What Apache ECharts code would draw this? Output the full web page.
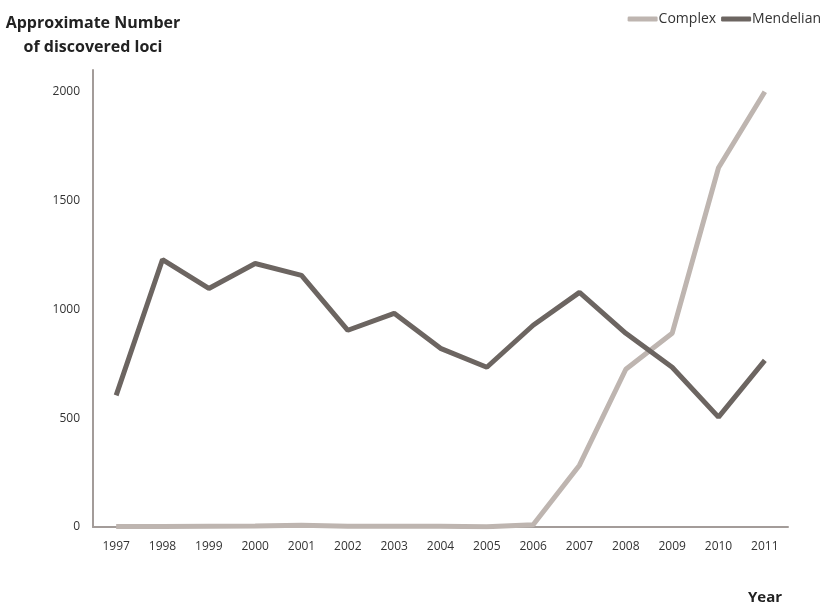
<!DOCTYPE html>
<html><head><meta charset="utf-8">
<script src="https://cdn.jsdelivr.net/npm/echarts@6/dist/echarts.min.js"></script>
<style>html,body{margin:0;padding:0;background:#fff}#c{width:829px;height:604px}</style>
</head><body><div id="c"></div>
<script>
const years = ['1997','1998','1999','2000','2001','2002','2003','2004','2005','2006','2007','2008','2009','2010','2011'];
const complexLoci = [2,2,4,5,8,4,3,3,1,10,284,725,890,1651,2000];
const mendelianLoci = [605,1229,1096,1211,1156,904,982,821,734,927,1078,890,734,505,766];
const yTicks = [0,500,1000,1500,2000];

const chart = echarts.init(document.getElementById('c'), null, {renderer:'canvas'});
const font = '"Open Sans", "Noto Sans", sans-serif';
chart.setOption({
  animation:false,
  textStyle:{fontFamily:font},
  title:[
    {text:'Approximate Number\nof discovered loci', left:88, top:6, textAlign:'center',
     textStyle:{fontSize:16, fontWeight:'bold', color:'#222', lineHeight:24, fontFamily:font}},
    {text:'Year', left:760, top:585, textAlign:'center',
     textStyle:{fontSize:15, fontWeight:'bold', color:'#222', fontFamily:font}}
  ],
  legend:{top:7, right:3, itemWidth:30, itemHeight:5, itemGap:5, icon:'roundRect',
    textStyle:{fontSize:14, color:'#333', padding:[0,0,0,-4]},
    data:['Complex','Mendelian']},
  grid:{left:93, right:41, top:70, bottom:77},
  xAxis:{type:'category', data:years, boundaryGap:true,
    axisLine:{lineStyle:{color:'#a39c99', width:2}},
    axisTick:{show:false},
    axisLabel:{fontSize:12, color:'#333', margin:14}},
  yAxis:{type:'value', min:0, max:2100, interval:500,
    axisLine:{show:true, lineStyle:{color:'#a39c99', width:2}},
    axisTick:{show:false}, splitLine:{show:false},
    axisLabel:{fontSize:12, color:'#333', margin:13, showMaxLabel:false,
      formatter:v => yTicks.includes(v) ? String(v) : ''}},
  series:[
    {name:'Complex', type:'line', data:complexLoci, symbol:'none',
     lineStyle:{color:'#beb5b0', width:5}, itemStyle:{color:'#beb5b0'}},
    {name:'Mendelian', type:'line', data:mendelianLoci, symbol:'none',
     lineStyle:{color:'#6c6561', width:5}, itemStyle:{color:'#6c6561'}}
  ]
});
</script></body></html>
